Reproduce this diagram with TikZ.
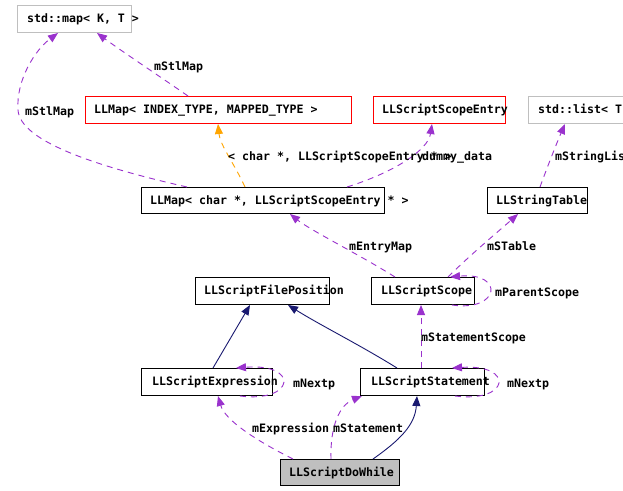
\documentclass[tikz,border=0pt]{standalone}
\usepackage{fontspec}
\setmonofont{DejaVu Sans Mono}
\usetikzlibrary{arrows.meta}
\definecolor{depc}{HTML}{9A32CD}
\definecolor{inhc}{HTML}{191970}
\definecolor{tmplc}{HTML}{FFA500}
\definecolor{grayb}{HTML}{BFBFBF}
\definecolor{redb}{HTML}{FF0000}
\begin{document}
\begin{tikzpicture}[x=1pt,y=-1pt,
  box/.style={draw, line width=1pt, inner sep=0pt, anchor=north west},
  txt/.style={inner sep=0pt, anchor=base west, font=\ttfamily\bfseries\fontsize{11.6}{12}\selectfont},
  tip/.style={-{Triangle[length=10pt,width=8pt]}},
  dep/.style={draw=depc, line width=0.9pt, dash pattern=on 6pt off 5pt, tip},
  inh/.style={draw=inhc, line width=0.9pt, tip},
  tmpl/.style={draw=tmplc, line width=0.9pt, dash pattern=on 6pt off 5pt, tip}]
\clip (0,0) rectangle (623,490);
\fill[white] (0,0) rectangle (623,490);
% boxes
\node[box, draw=grayb, minimum width=114pt, minimum height=27pt] (smap) at (17,5) {};
\node[txt] (smapt) at (27,22.5) {std::map< K, T >};
\node[box, draw=redb, minimum width=266pt, minimum height=27pt] (lmapI) at (85,96) {};
\node[txt] (lmapIt) at (94,113.5) {LLMap< INDEX\_TYPE, MAPPED\_TYPE >};
\node[box, draw=redb, minimum width=132pt, minimum height=27pt] (sse) at (373,96) {};
\node[txt] (sset) at (382,113.5) {LLScriptScopeEntry};
\node[box, draw=grayb, minimum width=112pt, minimum height=27pt] (slist) at (528,96) {};
\node[txt] (slistt) at (538,113.5) {std::list< T};
\node[box, minimum width=243pt, minimum height=26pt] (lmapC) at (141,187) {};
\node[txt] (lmapCt) at (150,204) {LLMap< char *, LLScriptScopeEntry * >};
\node[box, minimum width=100pt, minimum height=26pt] (strtab) at (487,187) {};
\node[txt] (strtabt) at (496,204) {LLStringTable};
\node[box, minimum width=134pt, minimum height=27pt] (sfp) at (195,277) {};
\node[txt] (sfpt) at (204,294.5) {LLScriptFilePosition};
\node[box, minimum width=103pt, minimum height=27pt] (scope) at (371,277) {};
\node[txt] (scopet) at (381,294.5) {LLScriptScope};
\node[box, minimum width=131pt, minimum height=27pt] (sexpr) at (141,368) {};
\node[txt] (sexprt) at (152,385.5) {LLScriptExpression};
\node[box, minimum width=124pt, minimum height=27pt] (sstmt) at (360,368) {};
\node[txt] (sstmtt) at (371,385.5) {LLScriptStatement};
\node[box, fill=grayb, minimum width=119pt, minimum height=26pt] (dowhile) at (280,459) {};
\node[txt] (dowhilet) at (289,476) {LLScriptDoWhile};
% connectors
\draw[dep] (lmapI.north -| 188,0) .. controls (165,80) and (120,50) .. (smap.south -| 97,0);
\draw[dep] (lmapC.north -| 187,0) .. controls (90,165) and (20,140) .. (18,110) .. controls (16,80) and (35,50) .. (smap.south -| 58,0);
\draw[tmpl] (lmapC.north -| 245,0) .. controls (235,165) and (220,145) .. (lmapI.south -| 218,0);
\draw[dep] (lmapC.north -| 347,0) .. controls (395,172) and (428,150) .. (sse.south -| 432,0);
\draw[dep] (strtab.north -| 540,0) .. controls (548,165) and (558,140) .. (slist.south -| 565,0);
\draw[dep] (scope.north -| 395,0) .. controls (360,255) and (310,230) .. (lmapC.south -| 290,0);
\draw[dep] (scope.north -| 448,0) .. controls (470,255) and (500,230) .. (strtab.south -| 518,0);
\draw[dep] (scope.south -| 452,0) .. controls (500,312) and (505,272) .. (scope.north -| 450,0);
\draw[dep] (sstmt.north -| 421,0) -- (scope.south -| 421,0);
\draw[dep] (sstmt.south -| 455,0) .. controls (510,403) and (515,364) .. (sstmt.north -| 452,0);
\draw[dep] (sexpr.south -| 240,0) .. controls (295,403) and (300,363) .. (sexpr.north -| 236,0);
\draw[inh] (sexpr.north -| 213,0) -- (sfp.south -| 250,0);
\draw[inh] (sstmt.north -| 397,0) .. controls (360,345) and (320,325) .. (sfp.south -| 288,0);
\draw[dep] (dowhile.north -| 293,0) .. controls (255,440) and (225,420) .. (sexpr.south -| 218,0);
\draw[dep] (dowhile.north -| 331,0) .. controls (330,425) and (340,405) .. (sstmt.south -| 362,0);
\draw[inh] (dowhile.north -| 373,0) .. controls (400,440) and (415,425) .. (sstmt.south -| 417,0);
% labels
\node[txt] (l1) at (154,70) {mStlMap};
\node[txt] (l2) at (25,115) {mStlMap};
\node[txt] (l3) at (228,160) {< char *, LLScriptScopeEntry * >};
\node[txt] (l4) at (422,160) {dummy\_data};
\node[txt] (l5) at (555,160) {mStringLis};
\node[txt] (l6) at (349,250) {mEntryMap};
\node[txt] (l7) at (487,250) {mSTable};
\node[txt] (l8) at (495,296) {mParentScope};
\node[txt] (l9) at (421,341) {mStatementScope};
\node[txt] (l10) at (507,387) {mNextp};
\node[txt] (l11) at (293,387) {mNextp};
\node[txt] (l12) at (252,432) {mExpression};
\node[txt] (l13) at (333,432) {mStatement};
\end{tikzpicture}
\end{document}
